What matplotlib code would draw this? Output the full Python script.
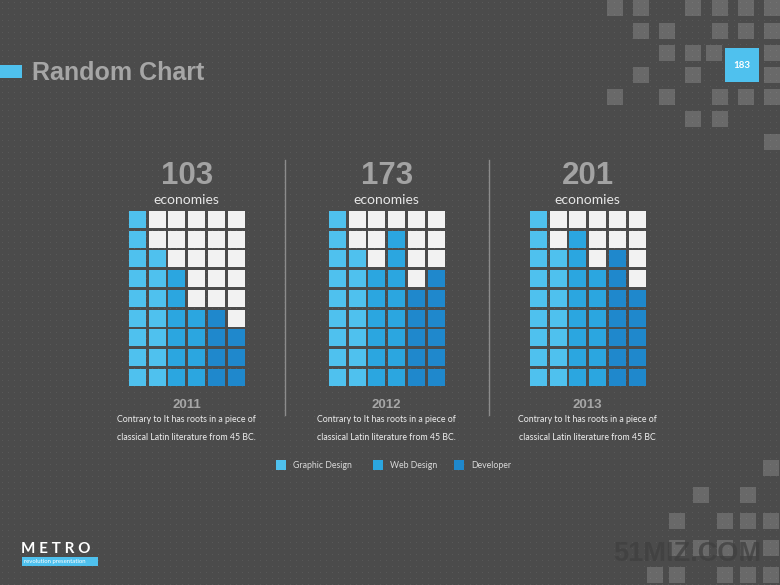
import numpy as np
import matplotlib.pyplot as plt
from matplotlib.patches import Rectangle

# Daten
years = ['2011', '2012', '2013']
totals = [103, 173, 201]
series = ['Graphic Design', 'Web Design', 'Developer']
series_colors = ['#4fc1ee', '#2ba6e0', '#1f88cc']
# filled cells per column (bottom up), two columns per series
graphic_design = [[9, 7], [9, 7], [9, 7]]
web_design = [[6, 4], [6, 8], [8, 6]]
developer = [[4, 3], [5, 6], [7, 5]]
desc_line1 = ['Contrary to It has roots in a piece of'] * 3
desc_line2 = ['classical Latin literature from 45 BC.',
              'classical Latin literature from 45 BC.',
              'classical Latin literature from 45 BC']
n_rows = 9

# layout (pixels)
W, H = 780, 585
grid_x0 = [129, 329, 530]
grid_top = 211
cell = 17
pitch = 19.7

fig = plt.figure(figsize=(W / 100, H / 100), dpi=100)
ax = fig.add_axes([0, 0, 1, 1])
ax.set_xlim(0, W)
ax.set_ylim(H, 0)
ax.axis('off')

# dotted background
tex = np.full((H, W, 3), 0x4b, dtype=np.uint8)
tex[2::6, 2::6] = 0x58
ax.imshow(tex, extent=(0, W, H, 0), interpolation='nearest', zorder=0)

# decorative squares
top_sq = [(607, 0), (633, 0), (685, 0), (712, 0), (738, 0), (764, 0),
          (633, 23), (659, 23), (712, 23), (738, 23), (764, 23),
          (659, 45), (685, 45), (706, 45), (764, 45),
          (633, 67), (685, 67), (764, 67),
          (607, 89), (659, 89), (712, 89), (738, 89), (764, 89),
          (685, 111), (712, 111), (764, 134)]
bot_sq = [(763, 460), (693, 487), (740, 487),
          (669, 513), (717, 513), (740, 513), (763, 513),
          (669, 540), (693, 540), (717, 540), (740, 540), (763, 540),
          (647, 567), (669, 567), (717, 567), (740, 567), (763, 567)]
for x, y in top_sq + bot_sq:
    ax.add_patch(Rectangle((x, y), 16, 16, facecolor='white', alpha=0.17,
                           lw=0, zorder=1))

# watermark
ax.text(687, 554, '51MIZ.COM', ha='center', va='center', fontsize=19.5,
        fontweight='bold', family='Liberation Sans', color='#404040',
        alpha=0.75, zorder=2)

# title
ax.add_patch(Rectangle((0, 65), 22, 13, facecolor='#4fc1ee', lw=0, zorder=3))
ax.text(32, 73, 'Random Chart', ha='left', va='center', fontsize=18,
        fontweight='bold', family='Liberation Sans', color='#a6a6a6', zorder=3)

# page number
ax.add_patch(Rectangle((725, 48), 34, 34, facecolor='#4fc1ee', lw=0, zorder=3))
ax.text(742, 66, '183', ha='center', va='center', fontsize=7,
        fontweight='bold', family='Lato', color='white', zorder=4)

# waffles
for i in range(3):
    cols = graphic_design[i] + web_design[i] + developer[i]
    col_series = [0, 0, 1, 1, 2, 2]
    x0 = grid_x0[i]
    for c, filled in enumerate(cols):
        for r in range(n_rows):
            color = series_colors[col_series[c]] if r >= n_rows - filled else '#f2f2f2'
            ax.add_patch(Rectangle((x0 + c * pitch, grid_top + r * pitch), cell, cell,
                                   facecolor=color, lw=0, zorder=3))
    cx = x0 + (5 * pitch + cell) / 2
    ax.text(cx, 176, str(totals[i]), ha='center', va='center', fontsize=22.5,
            fontweight='bold', family='Liberation Sans', color='#a3a3a3', zorder=3)
    ax.text(cx, 200, 'economies', ha='center', va='center', fontsize=10,
            family='Lato', color='#e6e6e6', zorder=3)
    ax.text(cx, 405, years[i], ha='center', va='center', fontsize=9.5,
            fontweight='bold', family='Liberation Sans', color='#a6a6a6', zorder=3)
    ax.text(cx, 419, desc_line1[i], ha='center', va='center', fontsize=6.3,
            family='Lato', color='#f0f0f0', zorder=3)
    ax.text(cx, 437, desc_line2[i], ha='center', va='center', fontsize=6.3,
            family='Lato', color='#f0f0f0', zorder=3)

# separators
for sx in [285, 489]:
    ax.plot([sx, sx], [160, 415], color='#8c8c8c', lw=1, zorder=3)

# legend
leg_x = [276, 373, 454]
for j, name in enumerate(series):
    ax.add_patch(Rectangle((leg_x[j], 460), 10, 10, facecolor=series_colors[j],
                           lw=0, zorder=3))
    ax.text(leg_x[j] + 17, 465, name, ha='left', va='center', fontsize=6.3,
            family='Lato', color='#d9d9d9', zorder=3)

# logo
ax.text(21, 549, 'M E T R O', ha='left', va='center', fontsize=11,
        fontweight='bold', family='Lato', color='white', zorder=3)
ax.add_patch(Rectangle((22, 557), 76, 9, facecolor='#4fc1ee', lw=0, zorder=3))
ax.text(24, 561.5, 'revolution presentation', ha='left', va='center', fontsize=4.3,
        family='Lato', color='white', zorder=4)

fig.savefig('out.png', dpi=100)
